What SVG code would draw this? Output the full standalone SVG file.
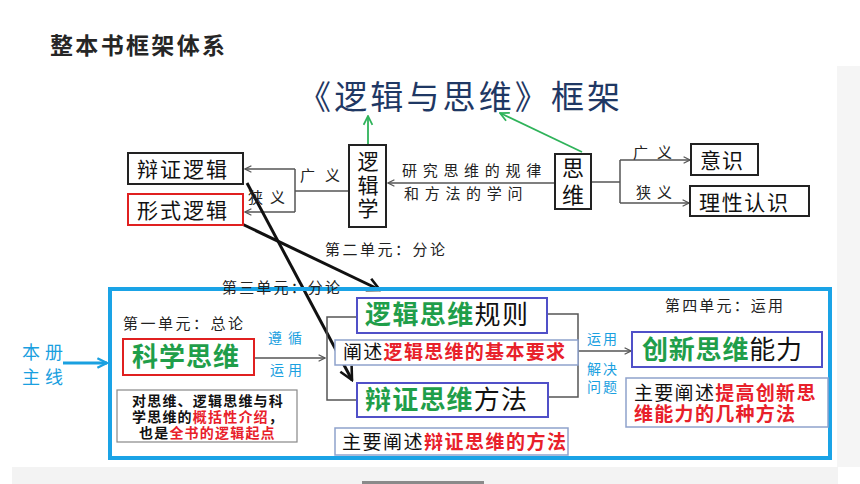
<svg xmlns="http://www.w3.org/2000/svg" width="860" height="484" viewBox="0 0 860 484">
<defs>
<style>
text{font-family:"Liberation Sans","Noto Sans CJK SC",sans-serif;dominant-baseline:central}
.box{fill:#fff;stroke:#222;stroke-width:2}
.red{fill:#fff;stroke:#e02020;stroke-width:2}
.pur{fill:#fff;stroke:#5050c8;stroke-width:2}
.lite{fill:#fff;stroke:#8fa2cc;stroke-width:1.5}
.g{fill:#1f9e4a;font-weight:bold}
.k{fill:#111}
.r{fill:#e8202a;font-weight:bold}
.lbl{fill:#222;font-size:15px}
.bl{fill:#1aa0e0;font-size:14px}
.gl{fill:none;stroke:#555;stroke-width:1.5}
.bk{fill:none;stroke:#111;stroke-width:3}
.gr{fill:none;stroke:#2fb35a;stroke-width:1.8}
</style>
<marker id="ag" viewBox="0 0 10 10" refX="9" refY="5" markerWidth="8" markerHeight="8" orient="auto" markerUnits="userSpaceOnUse"><path d="M1,1 L9,5 L1,9" fill="none" stroke="#555" stroke-width="1.5"/></marker>
<marker id="ab" viewBox="0 0 10 10" refX="9" refY="5" markerWidth="16" markerHeight="16" orient="auto" markerUnits="userSpaceOnUse"><path d="M1,1 L9,5 L1,9" fill="none" stroke="#111" stroke-width="1.6"/></marker>
<marker id="agr" viewBox="0 0 10 10" refX="9" refY="5" markerWidth="11" markerHeight="11" orient="auto" markerUnits="userSpaceOnUse"><path d="M1,1 L9,5 L1,9" fill="none" stroke="#2fb35a" stroke-width="1.6"/></marker>
<marker id="abl" viewBox="0 0 10 10" refX="9" refY="5" markerWidth="12" markerHeight="12" orient="auto" markerUnits="userSpaceOnUse"><path d="M1,1 L9,5 L1,9" fill="none" stroke="#1aa0e0" stroke-width="2"/></marker>
</defs>
<rect x="0" y="0" width="860" height="484" fill="#fff"/>
<rect x="837" y="66" width="23" height="401" fill="#f5f5f5"/>
<rect x="12" y="467" width="826" height="17" fill="#f3f3f3"/>
<rect x="362" y="481" width="122" height="3" fill="#8a8a8a"/>

<g id="title"><text x="50" y="46" font-size="23" font-weight="bold" fill="#262626" textLength="175">整本书框架体系</text></g>
<g id="subtitle"><text x="298" y="97" font-size="33" fill="#1f3864" textLength="322">《逻辑与思维》框架</text></g>

<g id="connectors">
<line class="gr" x1="368" y1="145" x2="368" y2="116" marker-end="url(#agr)"/>
<line class="gr" x1="582" y1="152" x2="500" y2="113" marker-end="url(#agr)"/>
<line class="gl" x1="557" y1="183" x2="388" y2="183" marker-end="url(#ag)"/>
<polyline class="gl" points="591,182 620,182"/>
<polyline class="gl" points="620,160 620,203"/>
<line class="gl" x1="620" y1="160" x2="690" y2="160" marker-end="url(#ag)"/>
<line class="gl" x1="620" y1="203" x2="689" y2="203" marker-end="url(#ag)"/>
<polyline class="gl" points="349,191 295,191"/>
<polyline class="gl" points="295,169 295,212"/>
<line class="gl" x1="295" y1="169" x2="245" y2="169" marker-end="url(#ag)"/>
<line class="gl" x1="295" y1="212" x2="245" y2="212" marker-end="url(#ag)"/>
<line class="bk" x1="247" y1="183" x2="352" y2="380" marker-end="url(#ab)"/>
<line class="bk" x1="242" y1="224" x2="380" y2="290" marker-end="url(#ab)"/>
<polyline class="gl" points="357,317 327,317 327,400 357,400"/>
<line class="gl" x1="254" y1="358" x2="325" y2="358" marker-end="url(#ag)"/>
<polyline class="gl" points="547,314 578,314 578,397 548,397"/>
<line class="gl" x1="578" y1="351" x2="631" y2="351" marker-end="url(#ag)"/>
<line x1="63" y1="363" x2="107" y2="363" stroke="#1aa0e0" stroke-width="3" marker-end="url(#abl)"/>
</g>

<g id="logic-dialectical"><rect class="box" x="128" y="153" width="115" height="31"/><text x="137" y="169" font-size="21" class="k" textLength="90">辩证逻辑</text></g>
<g id="logic-formal"><rect class="red" x="128" y="194" width="115" height="31"/><text x="137" y="210" font-size="21" class="k" textLength="90">形式逻辑</text></g>
<g id="logic"><rect class="box" x="349" y="145" width="37" height="82"/>
<text font-size="21" class="k" text-anchor="middle"><tspan x="368" y="161">逻</tspan><tspan x="368" y="184.5">辑</tspan><tspan x="368" y="208">学</tspan></text></g>
<g id="thinking"><rect class="box" x="555" y="154" width="36" height="55"/>
<text font-size="22" class="k" text-anchor="middle"><tspan x="573" y="168">思</tspan><tspan x="573" y="195">维</tspan></text></g>
<g id="consciousness"><rect class="box" x="691" y="144" width="67" height="31"/><text x="700" y="160" font-size="21" class="k" textLength="43">意识</text></g>
<g id="rational"><rect class="box" x="690" y="186" width="119" height="30"/><text x="699" y="202" font-size="21" class="k" textLength="89">理性认识</text></g>

<g id="edge-labels">
<text class="lbl" letter-spacing="5.7"><tspan x="402" y="170">研究思维的规律</tspan><tspan x="404" y="193">和方法的学问</tspan></text>
<text x="300" y="175" class="lbl" textLength="40">广义</text>
<text x="248" y="197" class="lbl" textLength="37">狭义</text>
<text x="633" y="152" class="lbl" textLength="39">广义</text>
<text x="636" y="192" class="lbl" textLength="36">狭义</text>
<text x="325" y="249" class="lbl" textLength="120">第二单元：分论</text>
</g>

<g id="main-frame"><rect x="110" y="289" width="720" height="169" fill="none" stroke="#1aa3e6" stroke-width="4"/></g>
<g id="label-third"><text x="222" y="287" class="lbl" textLength="118">第三单元：分论</text></g>

<g id="mainline"><text font-size="18" fill="#1aa0e0" letter-spacing="5"><tspan x="22" y="353">本册</tspan><tspan x="22" y="378">主线</tspan></text></g>

<g id="unit1">
<text x="123" y="323" class="lbl" textLength="120">第一单元：总论</text>
<rect class="red" x="123" y="339" width="131" height="36"/>
<text x="132" y="357" font-size="26" class="g" textLength="107">科学思维</text>
<text x="268" y="338" class="bl" textLength="34">遵循</text>
<text x="270" y="370" class="bl" textLength="32">运用</text>
</g>
<g id="unit1-note"><rect x="117" y="390" width="180" height="52" fill="#fff" stroke="#888" stroke-width="1.2"/>
<text font-size="14" font-weight="bold" class="k" letter-spacing="1.2"><tspan x="132" y="401">对思维、逻辑思维与科</tspan><tspan x="132" y="417">学思维的</tspan><tspan class="r">概括性介绍</tspan><tspan>，</tspan><tspan x="139" y="433">也是</tspan><tspan class="r">全书的逻辑起点</tspan></text>
</g>

<g id="rules"><rect class="pur" x="357" y="298" width="190" height="35"/>
<text x="365" y="315" font-size="26" textLength="163"><tspan class="g">逻辑思维</tspan><tspan class="k">规则</tspan></text></g>
<g id="rules-note"><rect class="lite" x="335" y="340" width="243" height="25"/>
<text x="343" y="352" font-size="19" textLength="222"><tspan class="k">阐述</tspan><tspan class="r">逻辑思维的基本要求</tspan></text></g>
<g id="methods"><rect class="pur" x="357" y="383" width="191" height="34"/>
<text x="365" y="400" font-size="26" textLength="162"><tspan class="g">辩证思维</tspan><tspan class="k">方法</tspan></text></g>
<g id="methods-note"><rect class="lite" x="335" y="428" width="233" height="27"/>
<text x="342" y="442" font-size="19" textLength="224"><tspan class="k">主要阐述</tspan><tspan class="r">辩证思维的方法</tspan></text></g>

<g id="unit4">
<text x="587" y="339" class="bl" textLength="30">运用</text>
<text class="bl" letter-spacing="2"><tspan x="587" y="369">解决</tspan><tspan x="587" y="387">问题</tspan></text>
<text x="665" y="305" class="lbl" textLength="118">第四单元：运用</text>
</g>
<g id="innovation"><rect class="pur" x="632" y="332" width="190" height="35"/>
<text x="642" y="350" font-size="26" textLength="160"><tspan class="g">创新思维</tspan><tspan class="k">能力</tspan></text></g>
<g id="innovation-note"><rect class="lite" x="626" y="378" width="202" height="49"/>
<text font-size="19" letter-spacing="1.3"><tspan x="634" y="392.5" class="k">主要阐述</tspan><tspan class="r">提高创新思</tspan><tspan x="634" y="414" class="r">维能力的几种方法</tspan></text></g>
</svg>
